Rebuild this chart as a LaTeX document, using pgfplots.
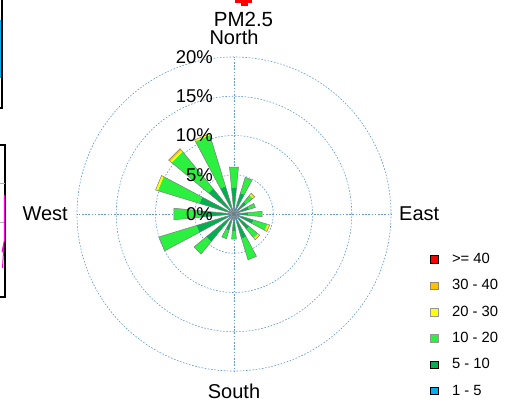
\documentclass[border=0pt]{standalone}
\usepackage{fontspec}
\setmainfont{Liberation Sans}
\usepackage{pgfplots}
\pgfplotsset{compat=1.18}
\usepgfplotslibrary{polar}

\definecolor{cBlue}{HTML}{00B0F0}
\definecolor{cDark}{HTML}{00B050}
\definecolor{cLight}{RGB}{44,240,64}
\definecolor{cYel}{HTML}{FFFF00}
\definecolor{cOra}{HTML}{FFC000}
\definecolor{cRed}{HTML}{FF0000}
\definecolor{edge}{RGB}{125,125,125}
\definecolor{gridblue}{RGB}{95,150,225}
\definecolor{magen}{RGB}{255,0,220}

% one coloured segment of a bar: angle, inner radius, outer radius, colour
\newcommand{\seg}[4]{%
  \ifdim #3pt>#2pt
    \pgfmathsetmacro{\aL}{#1-5.5}\pgfmathsetmacro{\aR}{#1+5.5}%
    \edef\tmp{\noexpand\addplot[draw=none, fill=#4, mark=none, forget plot] coordinates {(\aL,#2) (\aL,#3) (\aR,#3) (\aR,#2)};}%
    \tmp
  \fi}
% a whole bar: angle and cumulative % at the end of each class
\newcommand{\rosebar}[7]{%
  \seg{#1}{0}{#2}{cBlue}\seg{#1}{#2}{#3}{cDark}\seg{#1}{#3}{#4}{cLight}%
  \seg{#1}{#4}{#5}{cYel}\seg{#1}{#5}{#6}{cOra}\seg{#1}{#6}{#7}{cRed}%
  \pgfmathsetmacro{\aL}{#1-5.5}\pgfmathsetmacro{\aR}{#1+5.5}%
  \edef\tmp{\noexpand\addplot[draw=edge, line width=0.5pt, fill=none, mark=none, forget plot] coordinates {(0,0) (\aL,#7) (\aR,#7) (0,0)};}%
  \tmp}

\begin{document}
\begin{tikzpicture}
\useasboundingbox (-234pt,-187pt) rectangle (274pt,214pt);
\begin{polaraxis}[
  at={(0,0)}, anchor=center,
  width=314pt, height=314pt, scale only axis,
  ymin=0, ymax=20,
  xtick={0,90,180,270}, ytick={5,10,15,20},
  xticklabels={}, yticklabels={},
  major tick length=0pt, tick style={draw=none},
  grid=major,
  major grid style={draw=gridblue, dash pattern=on 1.6pt off 1.6pt, line width=0.6pt},
  axis line style={draw=none},
  clip=false,
  legend image code/.code={\draw[#1] (0pt,-3.85pt) rectangle (7.7pt,3.85pt);},
  legend style={at={(1.1242,0.3748)}, anchor=north west, draw=none, fill=none,
    font=\fontsize{14.8}{17}\selectfont, inner sep=0pt, outer sep=0pt,
    row sep=14.5pt, column sep=14pt, nodes={inner sep=0pt}},
  legend cell align=left,
]
% angle, 1-5, 5-10, 10-20, 20-30, 30-40, >=40 (cumulative %)
\rosebar{90}{1.0}{3.4}{6.0}{6.0}{6.0}{6.0}
\rosebar{67.5}{1.0}{2.8}{4.9}{4.9}{4.9}{4.9}
\rosebar{45}{0.9}{2.0}{3.1}{3.3}{3.45}{3.45}
\rosebar{22.5}{0.9}{2.0}{2.85}{2.85}{2.85}{2.85}
\rosebar{0}{0.9}{1.8}{3.6}{3.6}{3.6}{3.6}
\rosebar{-22.5}{0.9}{2.6}{4.45}{4.75}{4.75}{4.75}
\rosebar{-45}{0.9}{2.5}{3.95}{4.25}{4.25}{4.25}
\rosebar{-67.5}{1.0}{3.3}{6.1}{6.1}{6.1}{6.1}
\rosebar{-90}{1.0}{2.2}{3.2}{3.2}{3.2}{3.2}
\rosebar{-112.5}{1.0}{2.2}{3.3}{3.3}{3.3}{3.3}
\rosebar{-135}{1.0}{4.6}{6.6}{6.6}{6.6}{6.6}
\rosebar{-157.5}{1.0}{5.0}{10.0}{10.0}{10.0}{10.0}
\rosebar{180}{0.9}{4.3}{7.7}{7.7}{7.7}{7.7}
\rosebar{157.5}{1.0}{4.6}{10.15}{10.45}{10.45}{10.45}
\rosebar{135}{1.0}{4.2}{10.3}{10.55}{10.8}{10.8}
\rosebar{112.5}{1.0}{3.7}{10.5}{10.7}{10.7}{10.7}

\addlegendimage{fill=cRed, draw=none}\addlegendentry{>= 40}
\addlegendimage{fill=cOra, draw=edge!80!cOra}\addlegendentry{30 - 40}
\addlegendimage{fill=cYel, draw=edge!80}\addlegendentry{20 - 30}
\addlegendimage{fill=cLight, draw=edge!80}\addlegendentry{10 - 20}
\addlegendimage{fill=cDark, draw=none}\addlegendentry{5 - 10}
\addlegendimage{fill=cBlue, draw=none}\addlegendentry{1 - 5}

\begin{scope}[every node/.style={inner sep=0pt}]
\node[anchor=east, xshift=-21pt, font=\fontsize{18.5}{20}\selectfont] at (axis cs:90,20) {20\%};
\node[anchor=east, xshift=-21pt, font=\fontsize{18.5}{20}\selectfont] at (axis cs:90,15) {15\%};
\node[anchor=east, xshift=-21pt, font=\fontsize{18.5}{20}\selectfont] at (axis cs:90,10) {10\%};
\node[anchor=east, xshift=-21pt, font=\fontsize{18.5}{20}\selectfont] at (axis cs:90,5) {5\%};
\node[anchor=east, xshift=-21pt, font=\fontsize{18.5}{20}\selectfont] at (axis cs:90,0) {0\%};
\node[anchor=base, yshift=12.5pt, font=\fontsize{20}{22}\selectfont] at (axis cs:90,20) {North};
\node[anchor=base, yshift=-27.3pt, font=\fontsize{20}{22}\selectfont] at (axis cs:270,20) {South};
\node[anchor=east, xshift=-9pt, font=\fontsize{20}{22}\selectfont] at (axis cs:180,20) {West};
\node[anchor=west, xshift=8pt, font=\fontsize{20}{22}\selectfont] at (axis cs:0,20) {East};
\node[anchor=base, xshift=9.5pt, yshift=31pt, font=\fontsize{20.5}{22}\selectfont] at (axis cs:90,20) {PM2.5};
\end{scope}
\end{polaraxis}
% cut-off fragments at the edges of the reference
\fill[red] (1pt,211pt) rectangle (18pt,218pt);
\fill[red] (6.7pt,207.5pt) rectangle (14.3pt,218pt);
\draw[black, line width=1.2pt] (-232pt,215pt) -- (-232pt,106pt) -- (-236pt,106pt);
\draw[cBlue, line width=1pt] (-233.3pt,194pt) -- (-233.3pt,136pt);
\draw[black, line width=1.2pt] (-236pt,69pt) -- (-229pt,69pt) -- (-229pt,-83pt) -- (-236pt,-83pt);
\draw[gray!60, line width=0.6pt] (-236pt,31pt) -- (-229pt,31pt) (-236pt,-8pt) -- (-229pt,-8pt);
\draw[magen, line width=1pt] (-229.5pt,19pt) -- (-229.5pt,-26pt) -- (-232pt,-38pt) -- (-230pt,-30pt) -- (-231.5pt,-54pt);
\end{tikzpicture}
\end{document}
